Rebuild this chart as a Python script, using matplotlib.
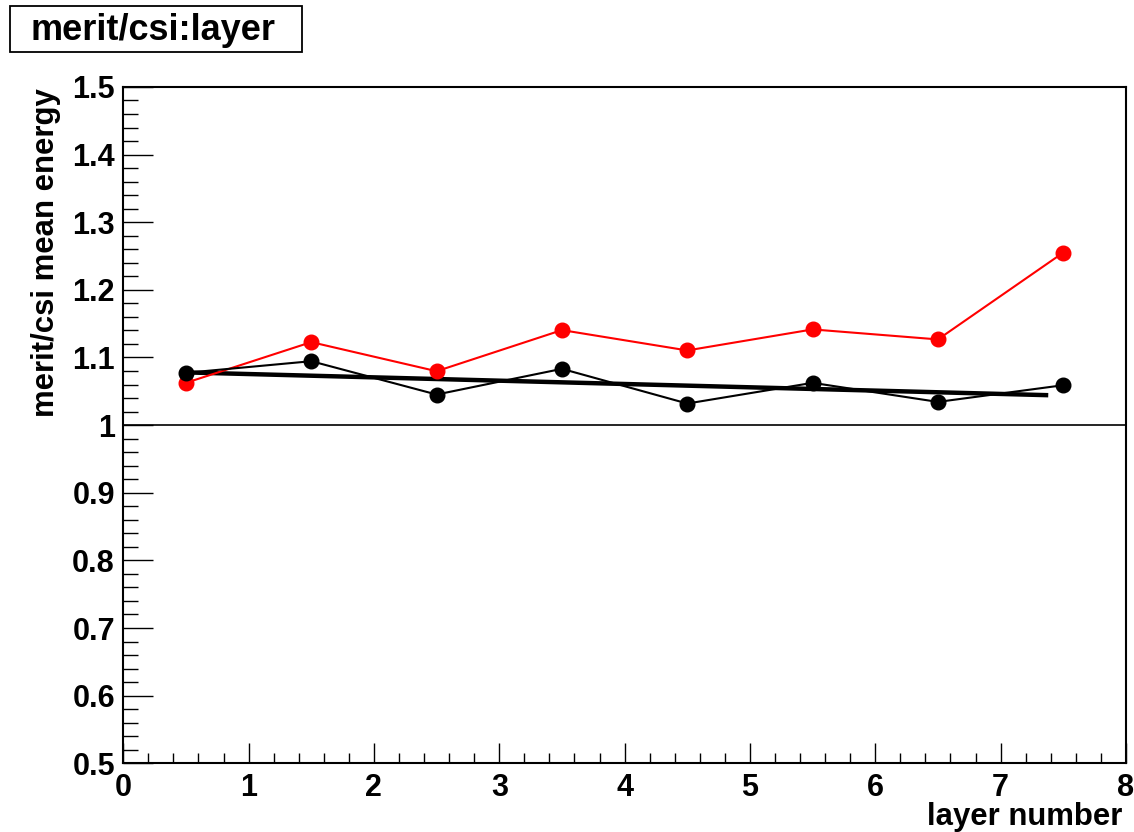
import matplotlib
matplotlib.use("Agg")
import matplotlib.pyplot as plt
from matplotlib.patches import Rectangle
from matplotlib.ticker import MultipleLocator
import numpy as np

plt.rcParams['font.family'] = ['Liberation Sans', 'DejaVu Sans']
plt.rcParams['font.weight'] = 'bold'

# per-layer mean energy ratio
layers = [0.5, 1.5, 2.5, 3.5, 4.5, 5.5, 6.5, 7.5]
ratio_red = [1.0625, 1.1227, 1.0797, 1.1405, 1.1104, 1.1415, 1.1267, 1.2551]
ratio_black = [1.0773, 1.0945, 1.0452, 1.0832, 1.0319, 1.0625, 1.0343, 1.0590]

# linear fit to the black points
fit_p0 = 1.0804
fit_p1 = -0.0049
fit_range = [0.45, 7.38]

fig = plt.figure(figsize=(11.34, 8.32), dpi=100)
ax = fig.add_axes([0.1087, 0.0826, 0.8842, 0.8129])

ax.axhline(1.0, color='black', lw=1.2, zorder=1)

ax.plot(layers, ratio_red, color='red', lw=1.5, marker='o', ms=10.5,
        mec='red', mfc='red', zorder=3)
ax.plot(layers, ratio_black, color='black', lw=1.5, marker='o', ms=10.5,
        zorder=3)

fx = np.array(fit_range)
ax.plot(fx, fit_p0 + fit_p1 * fx, color='black', lw=3.2, zorder=2,
        solid_capstyle='butt')

ax.set_xlim(0, 8)
ax.set_ylim(0.5, 1.5)
ax.xaxis.set_major_locator(MultipleLocator(1))
ax.xaxis.set_minor_locator(MultipleLocator(0.2))
ax.yaxis.set_major_locator(MultipleLocator(0.1))
ax.yaxis.set_minor_locator(MultipleLocator(0.02))
ax.yaxis.set_major_formatter(lambda v, p: '1' if abs(v - 1) < 1e-9 else f'{v:.1f}')

ax.tick_params(axis='both', which='both', direction='in', top=False,
               right=False, width=1.0, labelsize=22)
ax.tick_params(axis='x', which='major', length=14.4, pad=7)
ax.tick_params(axis='x', which='minor', length=7.2)
ax.tick_params(axis='y', which='major', length=21.6, pad=6)
ax.tick_params(axis='y', which='minor', length=10.8)
for lbl in ax.get_xticklabels() + ax.get_yticklabels():
    lbl.set_fontweight('bold')
for s in ax.spines.values():
    s.set_linewidth(1.5)

fig.text(1122 / 1134, 1 - 817 / 832, 'layer number', ha='right', va='center',
         fontsize=22.4, fontweight='bold')
fig.text(46 / 1134, 1 - 88 / 832, 'merit/csi mean energy', ha='center',
         va='top', rotation=90, fontsize=22.4, fontweight='bold')

# title box
fig.patches.append(Rectangle((10 / 1134, 1 - 52 / 832), 292 / 1134, 46 / 832,
                             transform=fig.transFigure, fill=False,
                             edgecolor='black', lw=1.3))
fig.text(153 / 1134, 1 - 31 / 832, 'merit/csi:layer', ha='center',
         va='center', fontsize=26, fontweight='bold')

fig.savefig('out.png', dpi=100)
